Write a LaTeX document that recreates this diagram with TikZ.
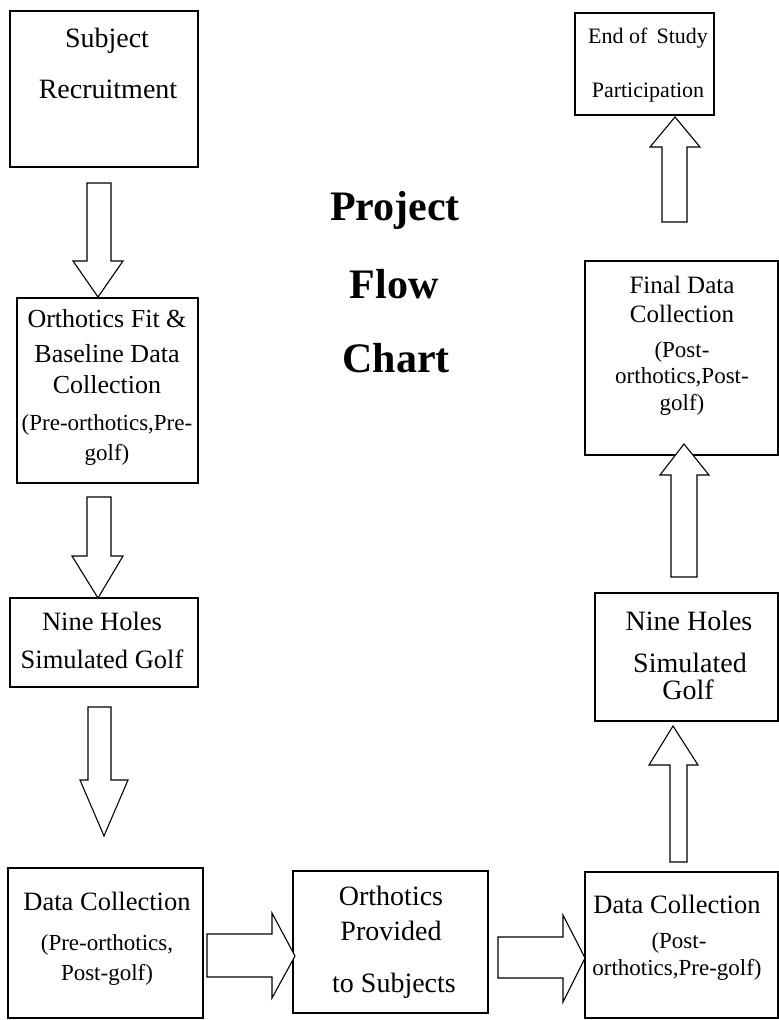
\documentclass[tikz,border=0pt]{standalone}
\usepackage{fontspec}
\setmainfont{Liberation Serif}
\newcommand\fsz[1]{\fontsize{#1bp}{#1bp}\selectfont}
\begin{document}
\begin{tikzpicture}[x=1bp,y=-1bp,
  box/.style={draw, line width=1.3bp, inner sep=0pt, outer sep=0pt, anchor=north west},
  barrow/.style={draw, line width=1.1bp, fill=white, line join=miter},
  txt/.style={anchor=base, inner sep=0pt, outer sep=0pt},
  big/.style={txt, font=\fsz{28}},
  mid/.style={txt, font=\fsz{26.5}},
  sml/.style={txt, font=\fsz{23}},
  ttl/.style={txt, font=\fsz{42}\bfseries}]
\useasboundingbox (0,0) rectangle (779,1020);
% boxes
\node[box, minimum width=188bp, minimum height=156bp] (b1) at (10,11) {};
\node[box, minimum width=181bp, minimum height=185bp] (b2) at (17,298) {};
\node[box, minimum width=188bp, minimum height=89bp] (b3) at (10,598) {};
\node[box, minimum width=195bp, minimum height=150bp] (b4) at (8,868) {};
\node[box, minimum width=195bp, minimum height=142bp] (b5) at (293,871) {};
\node[box, minimum width=193bp, minimum height=146bp] (b6) at (585,872) {};
\node[box, minimum width=183bp, minimum height=128bp] (b7) at (595,593) {};
\node[box, minimum width=193bp, minimum height=194bp] (b8) at (585,261) {};
\node[box, minimum width=139bp, minimum height=102bp] (b9) at (575,13) {};
% texts
\node[big] (t1a) at (107,47) {Subject};
\node[big] (t1b) at (108,98) {Recruitment};
\node[mid, font=\fsz{26}] (t2a) at (107,327) {Orthotics Fit \&};
\node[mid, font=\fsz{26}] (t2b) at (107,362) {Baseline Data};
\node[mid, font=\fsz{26}] (t2c) at (107,393) {Collection};
\node[sml] (t2d) at (107,430) {(Pre-orthotics,Pre-};
\node[sml] (t2e) at (107,460) {golf)};
\node[mid] (t3a) at (102,630) {Nine Holes};
\node[mid] (t3b) at (102,668) {Simulated Golf};
\node[mid] (t4a) at (107,910) {Data Collection};
\node[sml] (t4b) at (107,950) {(Pre-orthotics,};
\node[sml] (t4c) at (107,980) {Post-golf)};
\node[big] (t5a) at (391,905) {Orthotics};
\node[big] (t5b) at (391,940) {Provided};
\node[big] (t5c) at (394,992) {to Subjects};
\node[mid] (t6a) at (677,913) {Data Collection};
\node[sml] (t6b) at (679,948) {(Post-};
\node[sml] (t6c) at (677,975) {orthotics,Pre-golf)};
\node[big] (t7a) at (689,630) {Nine Holes};
\node[big] (t7b) at (690,672) {Simulated};
\node[big] (t7c) at (688,699) {Golf};
\node[mid, font=\fsz{25}] (t8a) at (682,293) {Final Data};
\node[mid, font=\fsz{25}] (t8b) at (682,322) {Collection};
\node[sml] (t8c) at (682,357) {(Post-};
\node[sml] (t8d) at (682,383) {orthotics,Post-};
\node[sml] (t8e) at (682,410) {golf)};
\node[sml, font=\fsz{22}] (t9a) at (648,43) {End of\ \,Study};
\node[sml, font=\fsz{22}] (t9b) at (648,97) {Participation};
% title
\node[ttl] (ti1) at (395,220) {Project};
\node[ttl] (ti2) at (394,298) {Flow};
\node[ttl] (ti3) at (396,372) {Chart};
% block arrows
\draw[barrow] (87,183) -- (111,183) -- (111,261) -- (123,261) -- (98,297) -- (73,261) -- (87,261) -- cycle;
\draw[barrow] (87,497) -- (111,497) -- (111,556) -- (123,556) -- (98,598) -- (72,556) -- (87,556) -- cycle;
\draw[barrow] (88,707) -- (111,707) -- (111,780) -- (128,780) -- (104,836) -- (80,780) -- (88,780) -- cycle;
\draw[barrow] (207,934) -- (272,934) -- (272,913) -- (295,956) -- (272,998) -- (272,977) -- (207,977) -- cycle;
\draw[barrow] (498,937) -- (563,937) -- (563,915) -- (585,958) -- (563,1002) -- (563,978) -- (498,978) -- cycle;
\draw[barrow] (670,862) -- (670,765) -- (649,765) -- (673,726) -- (698,765) -- (687,765) -- (687,862) -- cycle;
\draw[barrow] (671,577) -- (671,475) -- (660,475) -- (684,444) -- (709,475) -- (697,475) -- (697,577) -- cycle;
\draw[barrow] (662,222) -- (662,147) -- (650,147) -- (675,117) -- (700,147) -- (687,147) -- (687,222) -- cycle;
\end{tikzpicture}
\end{document}
